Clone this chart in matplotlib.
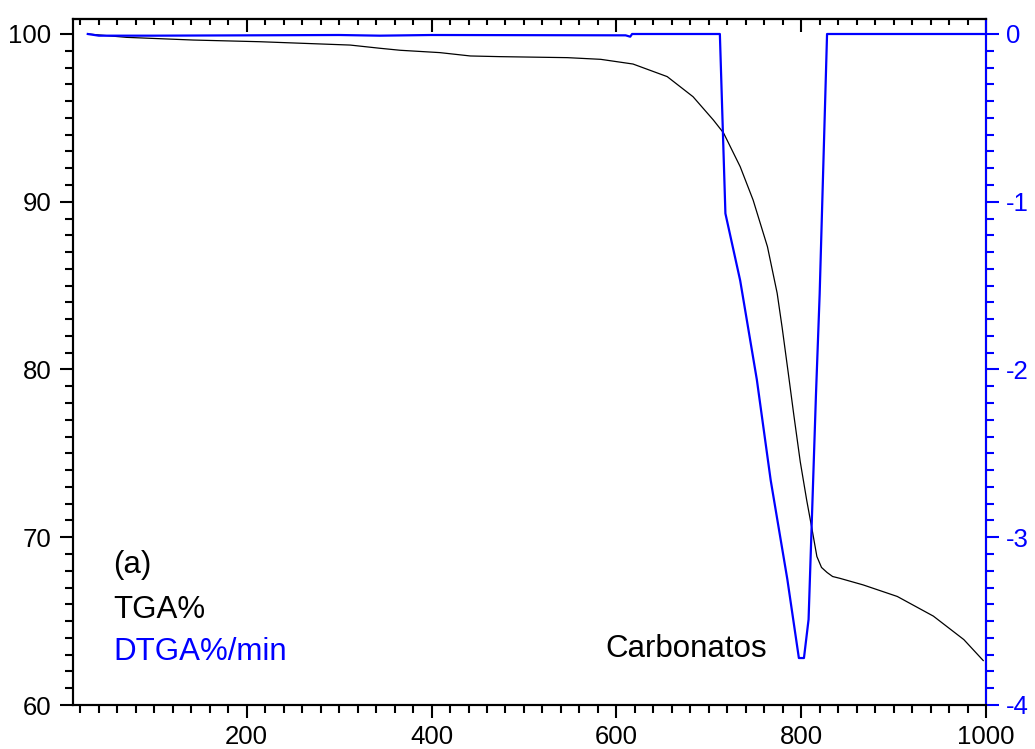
import matplotlib
matplotlib.use('Agg')
from matplotlib import pyplot as plt, ticker

# TGA curve (left axis, %)
tga_temp = [28, 70, 142, 214, 258, 312, 344, 366, 409, 442, 474, 547, 583, 618, 655,
            683, 705, 716, 734, 748, 763.5, 774, 779.4, 786, 792, 799, 806, 812, 817,
            822, 828, 834, 842, 867, 904, 943, 976, 997]
tga_pct = [100.0, 99.8, 99.64, 99.54, 99.45, 99.34, 99.15, 99.03, 98.89, 98.69, 98.65,
           98.59, 98.49, 98.21, 97.46, 96.26, 94.87, 94.1, 92.09, 90.1, 87.32, 84.55,
           82.5, 79.8, 77.3, 74.5, 72.2, 70.4, 68.85, 68.2, 67.9, 67.66, 67.55, 67.16,
           66.47, 65.3, 63.9, 62.65]

# DTGA curve (right axis, %/min)
dtga_temp = [28, 40, 100, 300, 344, 400, 610, 615, 617, 712, 718, 734, 752, 767, 785,
             797.5, 803, 808, 816, 820, 828, 1000]
dtga_rate = [0.0, -0.01, -0.01, -0.006, -0.01, -0.006, -0.008, -0.016, 0.0, 0.0, -1.07,
             -1.47, -2.06, -2.66, -3.25, -3.72, -3.72, -3.49, -2.15, -1.55, 0.0, 0.0]

BLUE = '#0000ff'

plt.rcParams['font.family'] = ['Liberation Sans', 'DejaVu Sans']
plt.rcParams['axes.unicode_minus'] = False

fig = plt.figure(figsize=(10.35, 7.49), dpi=100)
ax = fig.add_axes([73 / 1035, 1 - 705 / 749, 913 / 1035, 686 / 749])

ax.plot(tga_temp, tga_pct, color='black', lw=0.9)
ax.set_xlim(12, 1000)
ax.set_ylim(60, 100.894)

ax.xaxis.set_major_locator(ticker.MultipleLocator(200))
ax.xaxis.set_minor_locator(ticker.MultipleLocator(20))
ax.yaxis.set_major_locator(ticker.MultipleLocator(10))
ax.yaxis.set_minor_locator(ticker.MultipleLocator(1))
ax.tick_params(which='both', direction='out', width=1.5, labelsize=18.5, top=False, right=False)
ax.tick_params(which='major', length=9.5)
ax.tick_params(which='minor', length=5.5)
ax.tick_params(axis='y', pad=6)
ax.tick_params(axis='x', pad=5)
for s in ax.spines.values():
    s.set_linewidth(1.5)

top = ax.secondary_xaxis('top')
top.xaxis.set_major_locator(ticker.MultipleLocator(200))
top.xaxis.set_minor_locator(ticker.MultipleLocator(20))
top.tick_params(which='both', direction='in', width=1.5, labeltop=False)
top.tick_params(which='major', length=9)
top.tick_params(which='minor', length=4.5)
top.spines['top'].set_linewidth(1.5)

ax2 = ax.twinx()
ax2.plot(dtga_temp, dtga_rate, color=BLUE, lw=1.6)
ax2.set_ylim(-4, 0.0894)
ax2.yaxis.set_major_locator(ticker.MultipleLocator(1))
ax2.yaxis.set_minor_locator(ticker.MultipleLocator(0.1))
ax2.tick_params(which='both', direction='out', width=1.5, colors=BLUE, labelsize=18.5, pad=5)
ax2.tick_params(which='major', length=9.5)
ax2.tick_params(which='minor', length=5.5)
for name, s in ax2.spines.items():
    s.set_linewidth(1.5)
ax2.spines['right'].set_color(BLUE)

ax.text(0.044, 0.1924, '(a)', transform=ax.transAxes, fontsize=22.5, va='baseline')
ax.text(0.044, 0.1268, 'TGA%', transform=ax.transAxes, fontsize=22.5, va='baseline')
ax.text(0.044, 0.0656, 'DTGA%/min', transform=ax.transAxes, fontsize=22.5, va='baseline',
        color=BLUE)
ax.text(0.583, 0.0704, 'Carbonatos', transform=ax.transAxes, fontsize=22.5, va='baseline')

fig.savefig('out.png', dpi=100)
